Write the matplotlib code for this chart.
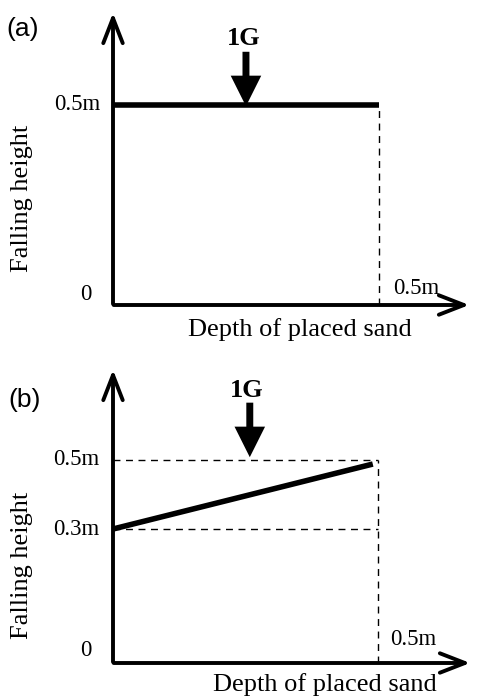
import matplotlib
matplotlib.use("Agg")
import matplotlib.pyplot as plt

plt.rcParams['font.family'] = ['Liberation Serif', 'DejaVu Serif']

# data (drawing is not to scale, so levels are as drawn)
a_line_x = [0.0, 0.5]
a_line_y = [0.5, 0.5]
b_line_x = [0.0, 0.49]
b_line_y = [0.33, 0.49]
b_levels = [0.5, 0.33]
a_ticks = ["0.5m", "0"]
b_ticks = ["0.5m", "0.3m", "0"]
depth_end = 0.5

TICK_FS = 16.5
LAB_FS = 19

fig = plt.figure(figsize=(4.78, 7.0), dpi=100)


def panel(rect, xmax, ymax):
    ax = fig.add_axes(rect)
    ax.set_xlim(0, xmax)
    ax.set_ylim(0, ymax)
    ax.axis("off")
    # axes with open arrow heads
    style = "->,head_length=1.8,head_width=0.7"
    ax.annotate("", xy=(xmax, 0), xytext=(-0.004, 0),
                arrowprops=dict(arrowstyle=style, lw=2.8, color="black"),
                annotation_clip=False)
    ax.annotate("", xy=(0, ymax), xytext=(0, -0.004),
                arrowprops=dict(arrowstyle=style, lw=2.8, color="black"),
                annotation_clip=False)
    return ax


def gravity_arrow(ax, x, y_top, y_tip, ylab):
    ax.annotate("", xy=(x, y_tip), xytext=(x, y_top),
                arrowprops=dict(arrowstyle="simple,head_length=2.2,head_width=2.2,tail_width=0.5",
                                color="black", lw=0), annotation_clip=False)
    ax.text(x - 0.005, ylab, "1G", fontsize=19, fontweight="bold", ha="center", va="center")


# ---- (a)
ax = panel([113 / 478, (700 - 305) / 700, 359 / 478, 295 / 700], 0.675, 0.7375)
ax.plot(a_line_x, a_line_y, color="black", lw=4, solid_capstyle="butt", clip_on=False)
ax.plot([depth_end, depth_end], [0, a_line_y[-1]], color="black", lw=1, ls=(0, (5, 4)))
ax.text(-0.024, 0.5, a_ticks[0], fontsize=TICK_FS, ha="right", va="center")
ax.text(-0.04, 0.025, a_ticks[1], fontsize=TICK_FS, ha="right", va="center")
ax.text(0.526, 0.0425, "0.5m", fontsize=TICK_FS, ha="left", va="center")
ax.text(0.351, -0.0625, "Depth of placed sand", fontsize=LAB_FS, ha="center", va="center")
ax.text(-0.171, 0.2675, "Falling height", fontsize=LAB_FS, ha="center", va="center", rotation=90)
ax.text(-0.17, 0.69, "(a)", fontsize=19, ha="center", va="center", family="Liberation Sans")
gravity_arrow(ax, 0.25, 0.64, 0.49, 0.667)

# ---- (b)
ax = panel([113 / 478, (700 - 663) / 700, 360 / 478, 296 / 700], 0.679, 0.729)
ax.plot(b_line_x, b_line_y, color="black", lw=4, solid_capstyle="butt")
for lev in b_levels:
    ax.plot([0, depth_end], [lev, lev], color="black", lw=1, ls=(0, (5, 4)))
ax.plot([depth_end, depth_end], [0, b_levels[0]], color="black", lw=1, ls=(0, (5, 4)))
ax.text(-0.025, b_levels[0], b_ticks[0], fontsize=TICK_FS, ha="right", va="center")
ax.text(-0.025, b_levels[1], b_ticks[1], fontsize=TICK_FS, ha="right", va="center")
ax.text(-0.04, 0.032, b_ticks[2], fontsize=TICK_FS, ha="right", va="center")
ax.text(0.523, 0.057, "0.5m", fontsize=TICK_FS, ha="left", va="center")
ax.text(0.40, -0.054, "Depth of placed sand", fontsize=LAB_FS, ha="center", va="center")
ax.text(-0.171, 0.241, "Falling height", fontsize=LAB_FS, ha="center", va="center", rotation=90)
ax.text(-0.166, 0.648, "(b)", fontsize=19, ha="center", va="center", family="Liberation Sans")
gravity_arrow(ax, 0.258, 0.648, 0.5, 0.672)

fig.savefig("out.png", dpi=100)
